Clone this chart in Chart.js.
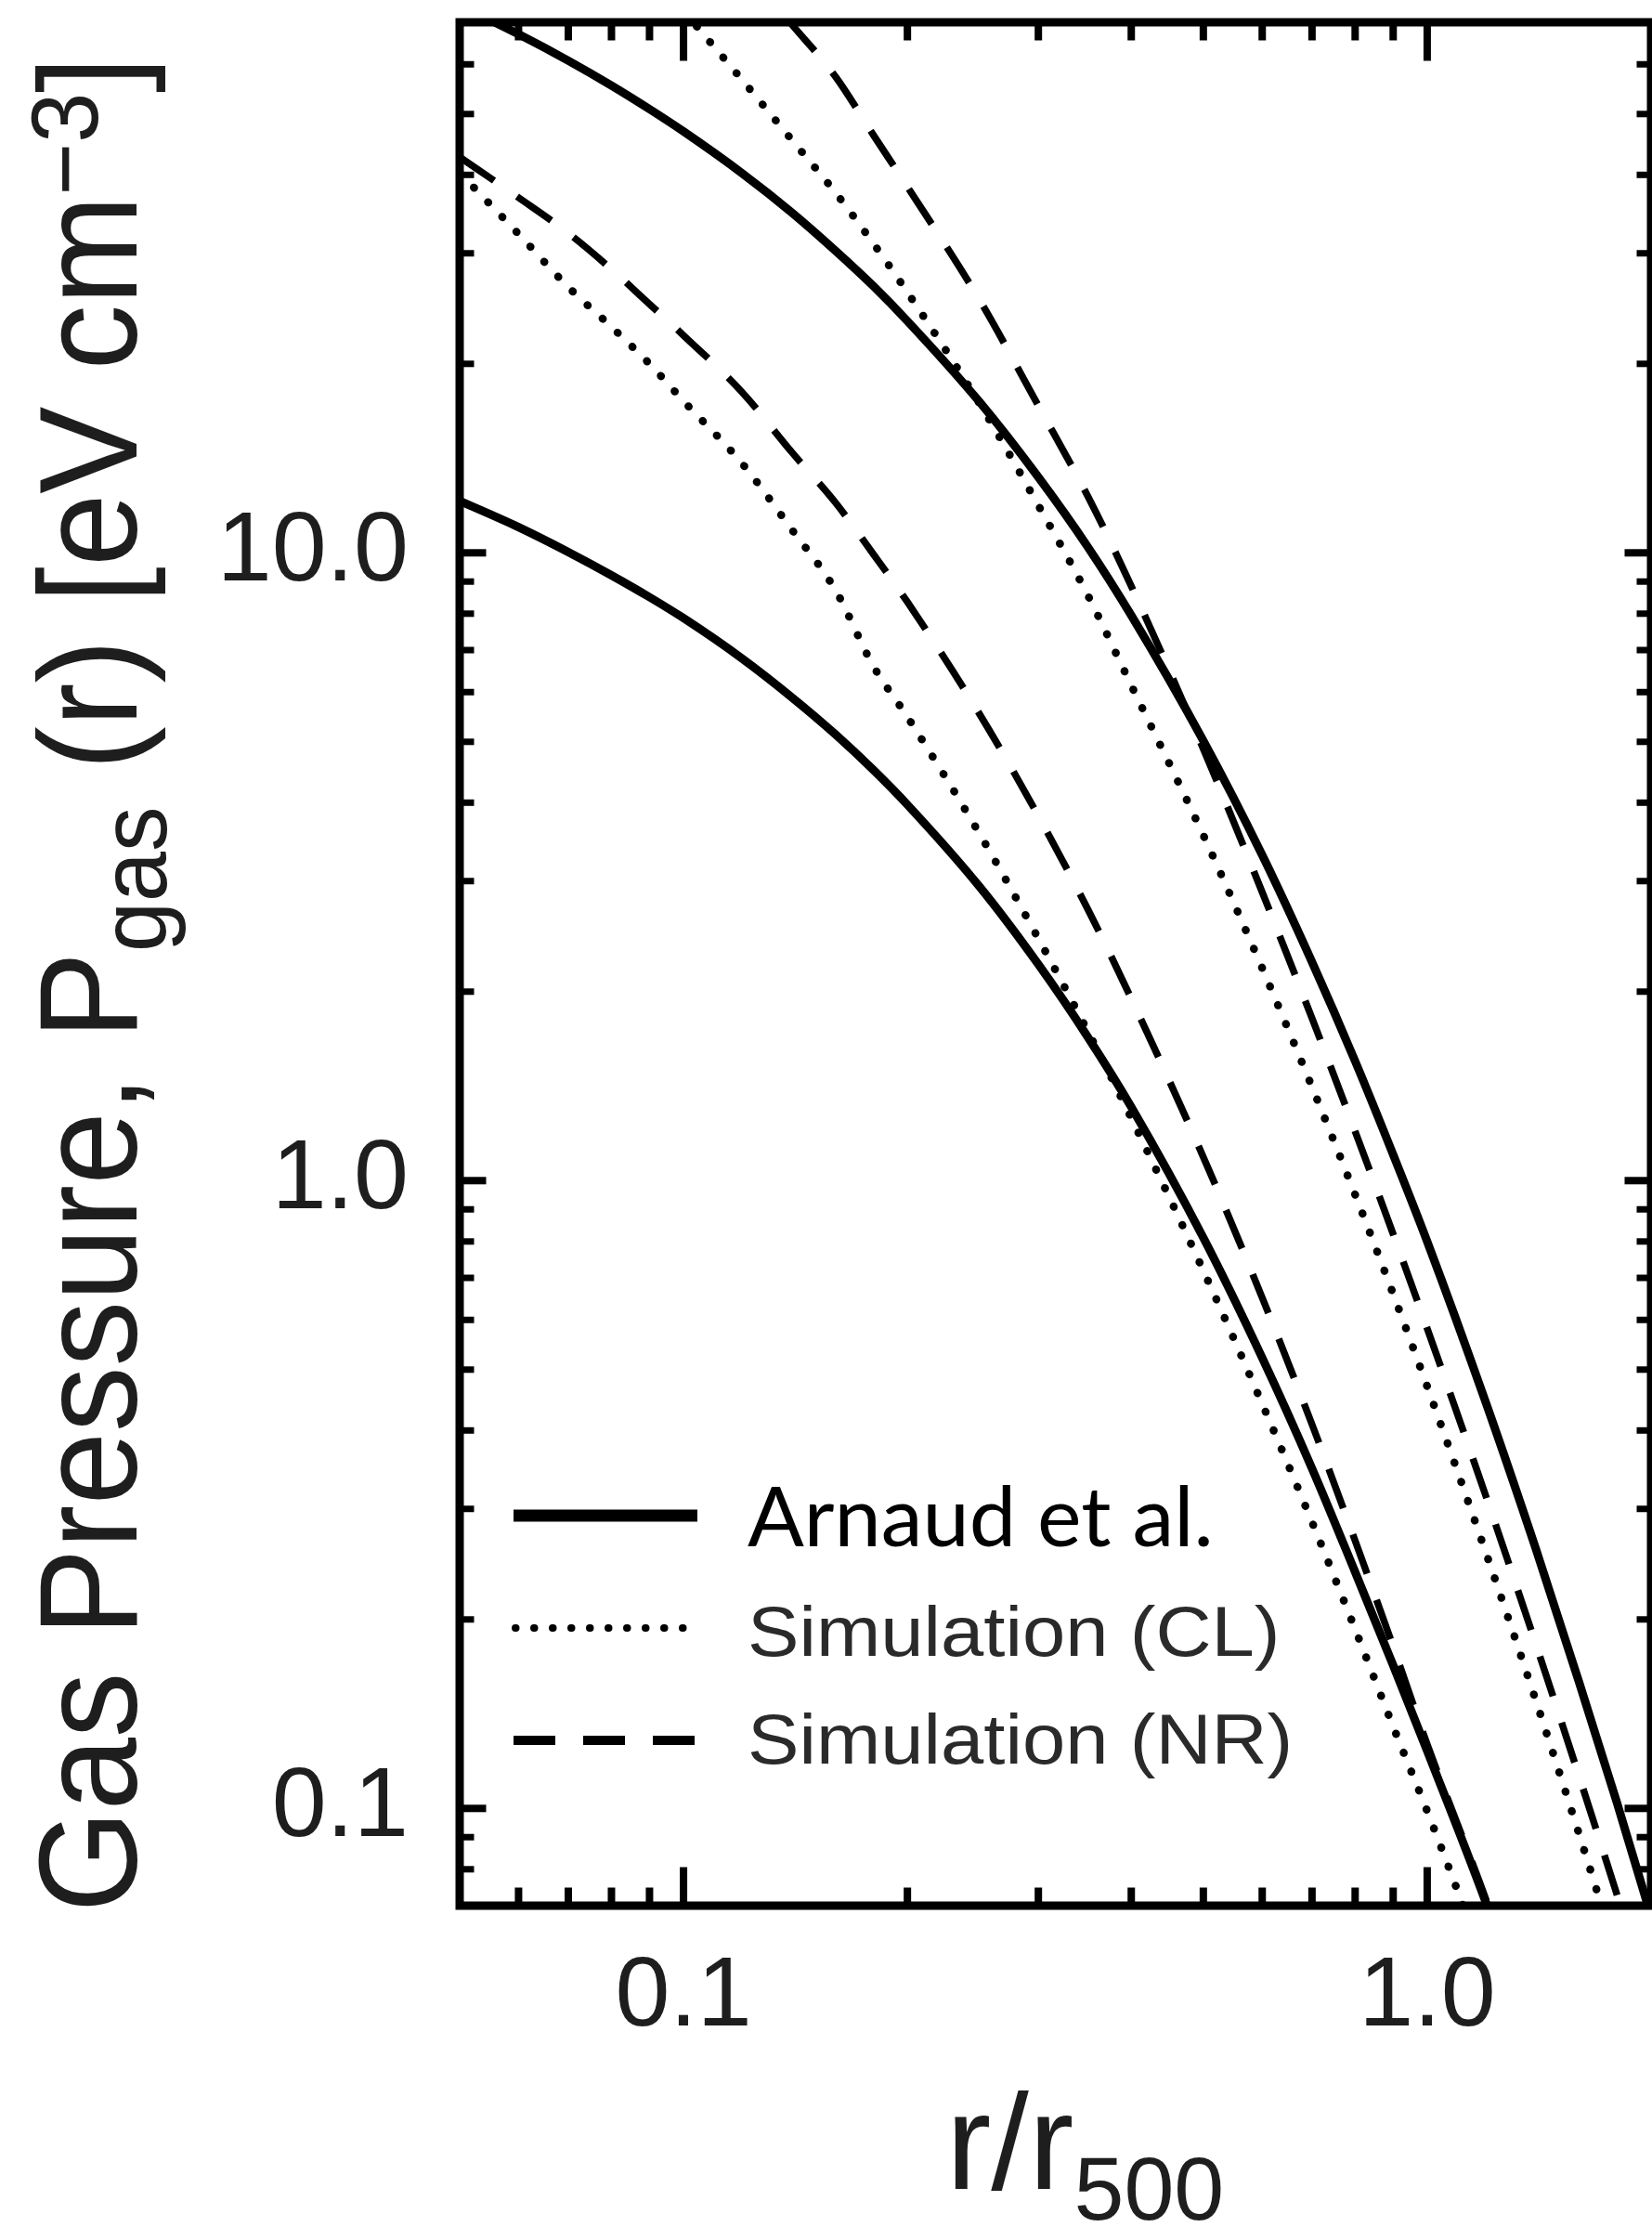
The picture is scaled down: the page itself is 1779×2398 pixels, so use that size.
<!DOCTYPE html>
<html>
<head>
<meta charset="utf-8">
<script src="https://cdn.jsdelivr.net/npm/chart.js@4.4.0/dist/chart.umd.min.js"></script>
<style>
  html, body { margin: 0; padding: 0; background: #ffffff; }
  canvas { display: block; }
</style>
</head>
<body>
<canvas id="chart" width="1779" height="2398"></canvas>
<script>
// ---------------- data ----------------
const radius = [0.05, 0.06, 0.07, 0.08, 0.09, 0.10, 0.12, 0.14, 0.16, 0.18, 0.20, 0.25, 0.30, 0.35, 0.40, 0.50, 0.60, 0.70, 0.80, 0.90, 1.0, 1.2, 1.4, 1.6, 1.8, 2.0];

const arnaudHigh = [74.5, 67.0, 60.8, 55.5, 50.9, 46.9, 40.2, 34.8, 30.3, 26.6, 23.4, 17.4, 13.2, 10.2, 7.95, 5.02, 3.30, 2.23, 1.55, 1.10, 0.80, 0.442, 0.259, 0.159, 0.102, 0.0673];
const arnaudLow  = [12.1, 10.99, 10.03, 9.21, 8.50, 7.87, 6.78, 5.88, 5.14, 4.51, 3.97, 2.94, 2.21, 1.69, 1.31, 0.811, 0.522, 0.348, 0.238, 0.169, 0.1235, 0.0707, 0.042, null, null, null];

const simClHigh  = [null, null, null, null, null, 73.0, 56.6, 45.4, 37.5, 31.1, 26.0, 17.3, 11.9, 8.54, 6.15, 3.55, 2.18, 1.41, 0.950, 0.660, 0.470, 0.255, 0.1485, 0.0911, 0.0583, null];
const simClLow   = [40.3, 32.2, 26.5, 22.9, 20.0, 17.45, 13.86, 10.87, 8.73, 6.60, 5.48, 3.57, 2.43, 1.725, 1.258, 0.719, 0.441, 0.286, 0.193, 0.135, 0.099, 0.056, null, null, null, null];

const simNrHigh  = [null, null, null, null, null, null, 86.0, 69.3, 57.4, 46.3, 38.3, 25.3, 17.15, 12.28, 8.85, 4.87, 2.88, 1.814, 1.198, 0.822, 0.5815, 0.3137, 0.1826, 0.1126, 0.0728, 0.0488];
const simNrLow   = [42.7, 36.8, 32.3, 28.3, 24.9, 22.2, 18.0, 14.44, 12.03, 9.95, 8.35, 5.54, 3.81, 2.70, 1.95, 1.09, 0.651, 0.409, 0.267, 0.181, 0.1265, 0.0715, 0.042, null, null, null];

const legendLabels = ['Arnaud et al.', 'Simulation (CL)', 'Simulation (NR)'];

const xRange = [0.05, 2.0];
const yRange = [0.07, 70];
const xTickValues = [0.1, 1];
const xTickLabels = ['0.1', '1.0'];
const yTickValues = [0.1, 1, 10];
const yTickLabels = ['0.1', '1.0', '10.0'];
const xMinorTicks = [0.06, 0.07, 0.08, 0.09, 0.2, 0.3, 0.4, 0.5, 0.6, 0.7, 0.8, 0.9];
const yMinorTicks = [0.08, 0.09, 0.2, 0.3, 0.4, 0.5, 0.6, 0.7, 0.8, 0.9, 2, 3, 4, 5, 6, 7, 8, 9, 20, 30, 40, 50, 60];

// ---------------- helpers ----------------
function toPoints(values) {
  const pts = [];
  values.forEach((v, i) => { if (v !== null) pts.push({ x: radius[i], y: v }); });
  return pts;
}

const SOLID = { borderDash: [], borderWidth: 9, borderCapStyle: 'butt' };
const DOTTED = { borderDash: [0.5, 21.5], borderWidth: 8.5, borderCapStyle: 'round' };
const DASHED = { borderDash: [45, 30], borderWidth: 7.5, borderCapStyle: 'butt' };

function ds(label, values, style, inLegend) {
  return Object.assign({
    label: label,
    data: toPoints(values),
    borderColor: '#000000',
    backgroundColor: '#000000',
    pointRadius: 0,
    pointHoverRadius: 0,
    fill: false,
    cubicInterpolationMode: 'monotone',
    legendRow: inLegend
  }, style);
}

const datasets = [
  ds(legendLabels[0], arnaudHigh, SOLID, 0),
  ds(legendLabels[0], arnaudLow, SOLID, -1),
  ds(legendLabels[1], simClHigh, DOTTED, 1),
  ds(legendLabels[1], simClLow, DOTTED, -1),
  ds(legendLabels[2], simNrHigh, DASHED, 2),
  ds(legendLabels[2], simNrLow, DASHED, -1)
];

const TICK_FONT = { family: '"Liberation Sans", Arial, Helvetica, sans-serif', size: 106 };
const TEXT_COLOR = '#1e1e1e';

// frame + inward tick marks on all four sides
const framePlugin = {
  id: 'frameTicks',
  afterDatasetsDraw(chart) {
    const { ctx, chartArea: a, scales } = chart;
    const xs = scales.x, ys = scales.y;
    const half = 4.5;
    ctx.save();
    ctx.strokeStyle = '#000';
    ctx.lineWidth = 9;
    ctx.strokeRect(a.left, a.top, a.right - a.left, a.bottom - a.top);
    ctx.lineCap = 'butt';
    function seg(x1, y1, x2, y2, w) {
      ctx.lineWidth = w;
      ctx.beginPath(); ctx.moveTo(x1, y1); ctx.lineTo(x2, y2); ctx.stroke();
    }
    xTickValues.forEach(v => {
      const p = xs.getPixelForValue(v);
      seg(p, a.bottom, p, a.bottom - half - 37, 8);
      seg(p, a.top, p, a.top + half + 37, 8);
    });
    xMinorTicks.forEach(v => {
      const p = xs.getPixelForValue(v);
      seg(p, a.bottom, p, a.bottom - half - 15, 8);
      seg(p, a.top, p, a.top + half + 15, 8);
    });
    yTickValues.forEach(v => {
      const p = ys.getPixelForValue(v);
      seg(a.left, p, a.left + half + 24, p, 8);
      seg(a.right, p, a.right - half - 24, p, 8);
    });
    yMinorTicks.forEach(v => {
      const p = ys.getPixelForValue(v);
      seg(a.left, p, a.left + half + 11, p, 7);
      seg(a.right, p, a.right - half - 11, p, 7);
    });
    ctx.restore();
  }
};

// axis titles with sub/superscripts
const titlePlugin = {
  id: 'richTitles',
  afterDraw(chart) {
    const { ctx, chartArea: a } = chart;
    const fam = '"Liberation Sans", Arial, Helvetica, sans-serif';
    function drawRich(parts) {
      let total = 0;
      parts.forEach(p => { ctx.font = p.size + 'px ' + fam; p.w = ctx.measureText(p.t).width; total += p.w; });
      let x = -total / 2;
      parts.forEach(p => { ctx.font = p.size + 'px ' + fam; ctx.fillText(p.t, x, p.dy); x += p.w; });
    }
    ctx.save();
    ctx.fillStyle = TEXT_COLOR;
    ctx.textBaseline = 'alphabetic';
    ctx.textAlign = 'left';
    // y title
    ctx.save();
    ctx.translate(a.left - 348, (a.top + a.bottom) / 2 + 22);
    ctx.rotate(-Math.PI / 2);
    ctx.scale(1, 1.06);
    drawRich([
      { t: 'Gas Pressure, P', size: 141, dy: 0 },
      { t: 'gas', size: 97, dy: 30 },
      { t: ' (r) [eV cm', size: 141, dy: 0 },
      { t: '\u22123', size: 97, dy: -40 },
      { t: ']', size: 141, dy: 0 }
    ]);
    ctx.restore();
    // x title
    ctx.save();
    ctx.translate((a.left + a.right) / 2 + 32, a.bottom + 305);
    drawRich([
      { t: 'r/r', size: 146, dy: 0 },
      { t: '500', size: 97, dy: 33 }
    ]);
    ctx.restore();
    ctx.restore();
  }
};

// legend drawn inside the plot area, styled from the datasets
const legendPlugin = {
  id: 'insideLegend',
  afterDraw(chart) {
    const { ctx, chartArea: a } = chart;
    const rows = [
      { lineY: a.bottom - 420, textY: a.bottom - 387, lw: 13, font: '90px Lato, "Open Sans", sans-serif', color: '#000', sx: 1.0 },
      { lineY: a.bottom - 299, textY: a.bottom - 269, lw: 8, font: '76px "Liberation Sans", Arial, sans-serif', color: '#2a2a2a', sx: 1.095 },
      { lineY: a.bottom - 178, textY: a.bottom - 153, lw: 10, font: '76px "Liberation Sans", Arial, sans-serif', color: '#2a2a2a', sx: 1.095 }
    ];
    const x0 = a.left + 58, x1 = a.left + 256, tx = a.left + 310;
    ctx.save();
    chart.data.datasets.forEach(d => {
      if (d.legendRow < 0) return;
      const r = rows[d.legendRow];
      ctx.save();
      ctx.strokeStyle = d.borderColor;
      ctx.lineWidth = r.lw;
      ctx.lineCap = d.borderCapStyle;
      ctx.setLineDash(d.legendRow === 1 ? [0.5, 19.5] : d.borderDash);
      ctx.beginPath();
      ctx.moveTo(d.legendRow === 1 ? x0 + 2 : x0, r.lineY);
      ctx.lineTo(d.legendRow === 1 ? x1 - 14 : x1, r.lineY);
      ctx.stroke();
      ctx.restore();
      ctx.save();
      ctx.fillStyle = r.color;
      ctx.font = r.font;
      ctx.textBaseline = 'alphabetic';
      ctx.translate(tx, r.textY);
      ctx.scale(r.sx, 1);
      ctx.fillText(d.label, 0, 0);
      ctx.restore();
    });
    ctx.restore();
  }
};

new Chart(document.getElementById('chart'), {
  type: 'line',
  data: { datasets: datasets },
  options: {
    responsive: false,
    animation: false,
    devicePixelRatio: 1,
    parsing: true,
    layout: { padding: { top: 24, right: 1, bottom: 0, left: 0 } },
    plugins: { legend: { display: false }, tooltip: { enabled: false }, title: { display: false } },
    scales: {
      x: {
        type: 'logarithmic',
        position: 'bottom',
        min: xRange[0],
        max: xRange[1],
        grid: { display: false, drawTicks: false },
        border: { display: false },
        title: { display: false },
        ticks: {
          autoSkip: false, maxRotation: 0, minRotation: 0,
          font: TICK_FONT, color: TEXT_COLOR, padding: 36,
          callback: (v, i) => xTickLabels[i]
        },
        afterBuildTicks: s => { s.ticks = xTickValues.map(v => ({ value: v })); },
        afterFit: s => { s.height = 346; s.paddingLeft = 0; s.paddingRight = 0; }
      },
      y: {
        type: 'logarithmic',
        position: 'left',
        min: yRange[0],
        max: yRange[1],
        grid: { display: false, drawTicks: false },
        border: { display: false },
        title: { display: false },
        ticks: {
          autoSkip: false,
          font: TICK_FONT, color: TEXT_COLOR, padding: 55,
          callback: (v, i) => yTickLabels[i]
        },
        afterBuildTicks: s => { s.ticks = yTickValues.map(v => ({ value: v })); },
        afterFit: s => { s.width = 495; s.paddingTop = 0; s.paddingBottom = 0; }
      }
    }
  },
  plugins: [framePlugin, titlePlugin, legendPlugin]
});
</script>
</body>
</html>
